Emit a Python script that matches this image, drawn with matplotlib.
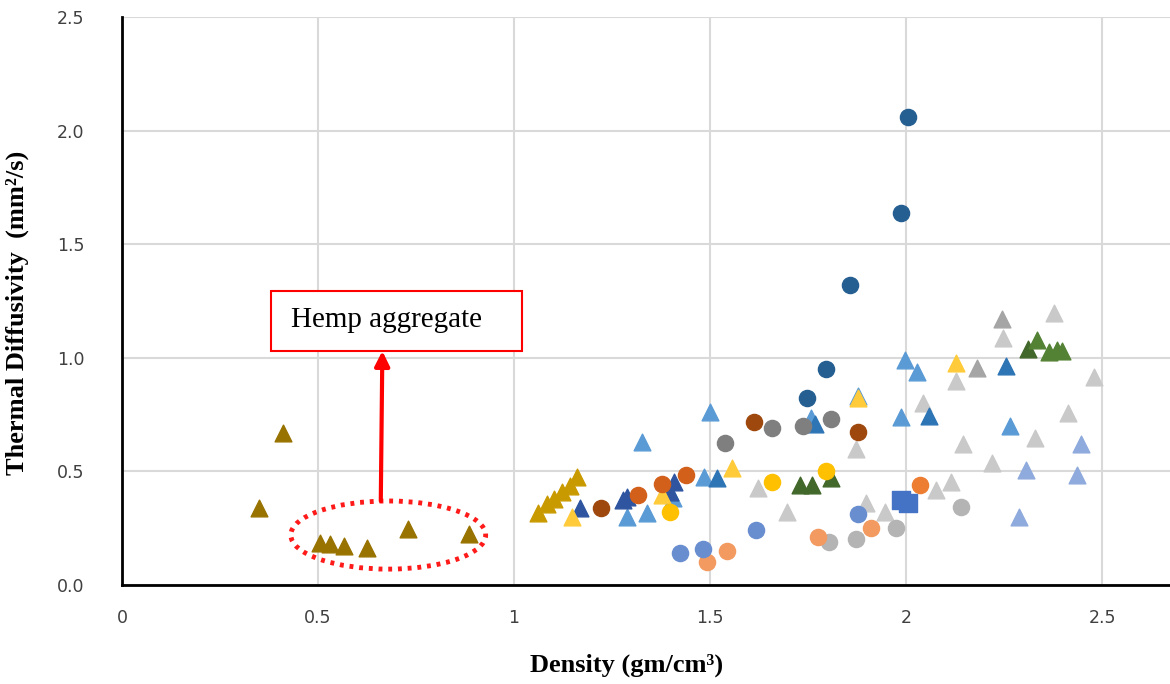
import matplotlib
matplotlib.use("Agg")
import matplotlib.pyplot as plt
from matplotlib import patches
from matplotlib.ticker import FormatStrFormatter, FuncFormatter

# density (gm/cm3) and thermal diffusivity (mm2/s) for each material group
hemp_x = [0.35, 0.41, 0.505, 0.53, 0.565, 0.625, 0.73, 0.885]
hemp_y = [0.34, 0.67, 0.185, 0.18, 0.17, 0.165, 0.245, 0.225]

gold_x = [1.061, 1.083, 1.103, 1.123, 1.143, 1.161]
gold_y = [0.317, 0.356, 0.380, 0.410, 0.435, 0.474]

ltgray_tri_x = [2.376, 2.247, 2.126, 2.478, 2.412, 2.329, 2.146, 2.219, 2.114, 2.077,
                2.044, 1.872, 1.622, 1.697, 1.897, 1.946]
ltgray_tri_y = [1.199, 1.089, 0.899, 0.917, 0.758, 0.646, 0.620, 0.538, 0.452, 0.418,
                0.800, 0.599, 0.428, 0.323, 0.360, 0.320]

gray_tri_x = [2.244, 2.181]
gray_tri_y = [1.169, 0.954]

peri_tri_x = [2.446, 2.306, 2.435, 2.287]
peri_tri_y = [0.620, 0.506, 0.484, 0.300]

blue_tri_x = [1.327, 1.287, 1.338, 1.406, 1.500, 1.485, 1.757, 1.876, 1.996, 2.027, 1.987, 2.265]
blue_tri_y = [0.631, 0.300, 0.316, 0.382, 0.763, 0.474, 0.734, 0.830, 0.990, 0.939, 0.741, 0.700]

dkblue_tri_x = [1.517, 1.768, 2.059, 2.255]
dkblue_tri_y = [0.470, 0.709, 0.744, 0.964]

navy_tri_x = [1.168, 1.279, 1.287, 1.398, 1.408]
navy_tri_y = [0.340, 0.374, 0.386, 0.410, 0.455]

yellow_tri_x = [1.147, 1.377, 1.557, 1.876, 2.126]
yellow_tri_y = [0.300, 0.396, 0.514, 0.822, 0.976]

dkgreen_tri_x = [1.730, 1.761, 1.809, 2.310]
dkgreen_tri_y = [0.440, 0.440, 0.470, 1.037]

green_tri_x = [2.335, 2.365, 2.386, 2.398]
green_tri_y = [1.078, 1.027, 1.034, 1.031]

gray_circ_x = [1.538, 1.657, 1.736, 1.808]
gray_circ_y = [0.624, 0.690, 0.701, 0.731]

ltgray_circ_x = [1.804, 1.873, 1.974, 2.139]
ltgray_circ_y = [0.188, 0.202, 0.249, 0.345]

brown_circ_x = [1.221, 1.611, 1.877]
brown_circ_y = [0.337, 0.719, 0.675]

orange_circ_x = [1.317, 1.377, 1.438]
orange_circ_y = [0.396, 0.443, 0.484]

brt_orange_circ_x = [2.036]
brt_orange_circ_y = [0.440]

salmon_circ_x = [1.491, 1.544, 1.776, 1.911]
salmon_circ_y = [0.103, 0.151, 0.213, 0.252]

peri_circ_x = [1.424, 1.481, 1.617, 1.878]
peri_circ_y = [0.142, 0.157, 0.242, 0.311]

yellow_circ_x = [1.398, 1.657, 1.796]
yellow_circ_y = [0.323, 0.452, 0.502]

dkblue_circ_x = [2.004, 1.986, 1.857, 1.796, 1.746]
dkblue_circ_y = [2.061, 1.639, 1.320, 0.952, 0.822]

square_x = [1.987, 2.006]
square_y = [0.374, 0.362]

fig = plt.figure(figsize=(11.7, 6.84), dpi=100)
ax = fig.add_axes([0.1043, 0.1447, 0.8957, 0.8303])

tri = 145
circ = 135

ax.scatter(ltgray_tri_x, ltgray_tri_y, marker='^', s=tri, color='#C9C9C9', zorder=3)
ax.scatter(gray_tri_x, gray_tri_y, marker='^', s=tri, color='#A5A5A5', zorder=3)
ax.scatter(peri_tri_x, peri_tri_y, marker='^', s=tri, color='#8FAADC', zorder=3)
ax.scatter(blue_tri_x, blue_tri_y, marker='^', s=tri, color='#5B9BD5', zorder=3)
ax.scatter(dkblue_tri_x, dkblue_tri_y, marker='^', s=tri, color='#2E75B6', zorder=3)
ax.scatter(navy_tri_x, navy_tri_y, marker='^', s=tri, color='#2F55A0', zorder=3)
ax.scatter(yellow_tri_x, yellow_tri_y, marker='^', s=tri, color='#FFCB3A', zorder=3)
ax.scatter(hemp_x, hemp_y, marker='^', s=tri, color='#997300', zorder=3)
ax.scatter(gold_x, gold_y, marker='^', s=tri, color='#C99A00', zorder=3)
ax.scatter(dkgreen_tri_x, dkgreen_tri_y, marker='^', s=tri, color='#43682B', zorder=3)
ax.scatter(green_tri_x, green_tri_y, marker='^', s=tri, color='#548235', zorder=3)

ax.scatter(gray_circ_x, gray_circ_y, marker='o', s=circ, color='#7F7F7F', zorder=3)
ax.scatter(ltgray_circ_x, ltgray_circ_y, marker='o', s=circ, color='#B4B4B4', zorder=3)
ax.scatter(brown_circ_x, brown_circ_y, marker='o', s=circ, color='#9E480E', zorder=3)
ax.scatter(orange_circ_x, orange_circ_y, marker='o', s=circ, color='#D2601A', zorder=3)
ax.scatter(brt_orange_circ_x, brt_orange_circ_y, marker='o', s=circ, color='#ED7D31', zorder=3)
ax.scatter(salmon_circ_x, salmon_circ_y, marker='o', s=circ, color='#F29A60', zorder=3)
ax.scatter(peri_circ_x, peri_circ_y, marker='o', s=circ, color='#698ED0', zorder=3)
ax.scatter(yellow_circ_x, yellow_circ_y, marker='o', s=circ, color='#FFC000', zorder=3)
ax.scatter(dkblue_circ_x, dkblue_circ_y, marker='o', s=circ, color='#255E91', zorder=3)
ax.scatter(square_x, square_y, marker='s', s=150, color='#4472C4', zorder=3)

ax.set_xlim(0, 2.673)
ax.set_ylim(0, 2.5)
ax.set_xticks([0, 0.5, 1, 1.5, 2, 2.5])
ax.set_yticks([0, 0.5, 1.0, 1.5, 2.0, 2.5])
ax.xaxis.set_major_formatter(FuncFormatter(lambda v, p: '%g' % v))
ax.yaxis.set_major_formatter(FormatStrFormatter('%.1f'))
ax.tick_params(length=0, labelsize=12.5, colors='#404040')
ax.tick_params(axis='x', pad=17)
ax.tick_params(axis='y', pad=27)
ax.grid(True, color='#D9D9D9', linewidth=1.5)
ax.set_axisbelow(True)
for side in ['top', 'right']:
    ax.spines[side].set_visible(False)
for side in ['left', 'bottom']:
    ax.spines[side].set_linewidth(2)
    ax.spines[side].set_color('black')
    ax.spines[side].set_zorder(4)

ax.set_xlabel('Density (gm/cm³)', fontsize=19, fontweight='bold',
              family='Liberation Serif')
ax.set_ylabel('Thermal Diffusivity  (mm²/s)', fontsize=19, fontweight='bold',
              family='Liberation Serif')
ax.xaxis.set_label_coords(0.481, -0.12)
ax.yaxis.set_label_coords(-0.089, 0.48)

# hemp aggregate callout
ax.add_patch(patches.Ellipse((0.679, 0.22), 0.497, 0.30, fill=False,
                             edgecolor='#FF1A1A', linewidth=3.5,
                             linestyle=(0, (0.8, 1.2)), zorder=5))
ax.annotate('', xy=(0.664, 1.03), xytext=(0.66, 0.37),
            arrowprops=dict(arrowstyle='-|>', color='#FF0000', lw=3,
                            mutation_scale=22, shrinkA=0, shrinkB=0), zorder=5)
ax.add_patch(patches.Rectangle((0.38, 1.03), 0.64, 0.264, fill=True,
                               facecolor='white', edgecolor='#FF0000',
                               linewidth=1.5, zorder=5))
ax.text(0.43, 1.165, 'Hemp aggregate', fontsize=21, family='Liberation Serif',
        va='center', ha='left', zorder=6)

fig.savefig('out.png', dpi=100)
